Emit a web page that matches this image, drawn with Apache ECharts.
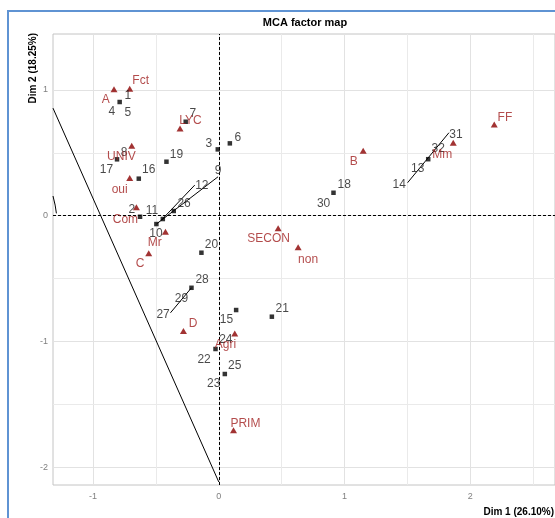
<!DOCTYPE html>
<html>
<head>
<meta charset="utf-8">
<script src="https://cdn.jsdelivr.net/npm/echarts@6/dist/echarts.min.js"></script>
<style>html,body{margin:0;padding:0;background:#fff}#c{width:555px;height:518px}</style>
</head>
<body>
<div id="c"></div>
<script>
// Individuals (black squares)
const indX = [-0.788,-0.263,-0.008,0.088,-0.809,-0.416,-0.636,-0.358,-0.626,-0.496,-0.445,0.912,1.665,-0.138,-0.217,0.138,0.422,-0.026,0.048];
const indY = [0.904,0.747,0.527,0.575,0.448,0.429,0.294,0.037,-0.009,-0.067,-0.027,0.182,0.449,-0.295,-0.574,-0.751,-0.804,-1.061,-1.260];
// Individual labels (repelled positions)
const indLabels = ["1","4","5","7","3","6","8","17","19","16","9","12","26","2","11","10","31","32","13","14","18","30","20","28","29","27","15","21","24","22","25","23"];
const indLabelX = [-0.724,-0.851,-0.724,-0.207,-0.080,0.151,-0.753,-0.893,-0.337,-0.557,-0.006,-0.135,-0.276,-0.692,-0.531,-0.499,1.885,1.745,1.581,1.434,0.997,0.833,-0.058,-0.133,-0.297,-0.443,0.061,0.504,0.056,-0.117,0.127,-0.040];
const indLabelY = [0.954,0.827,0.816,0.808,0.575,0.620,0.504,0.363,0.488,0.363,0.355,0.235,0.098,0.047,0.037,-0.144,0.647,0.530,0.370,0.243,0.243,0.098,-0.234,-0.512,-0.658,-0.791,-0.831,-0.737,-0.990,-1.149,-1.194,-1.340];
// Categories (red triangles)
const catNames = ["A","Fct","LYC","UNIV","oui","Com","Mr","C","D","Agri","PRIM","SECON","non","B","Mm","FF"];
const catX = [-0.833,-0.708,-0.308,-0.692,-0.708,-0.655,-0.424,-0.557,-0.281,0.127,0.117,0.472,0.631,1.148,1.864,2.190];
const catY = [1.005,1.010,0.694,0.556,0.299,0.066,-0.128,-0.300,-0.918,-0.937,-1.708,-0.101,-0.252,0.516,0.580,0.726];
const catLabelX = [-0.899,-0.621,-0.225,-0.774,-0.788,-0.742,-0.509,-0.626,-0.204,0.053,0.212,0.396,0.710,1.074,1.776,2.275];
const catLabelY = [0.925,1.071,0.752,0.468,0.204,-0.030,-0.216,-0.379,-0.858,-1.029,-1.652,-0.186,-0.348,0.431,0.488,0.781];
// Label connector segments
const segments = [
  [[-1.318,0.855],[0,-2.119]],
  [[-1.318,0.156],[-1.301,0.084],[-1.291,0.018]],
  [[-0.496,-0.067],[-0.006,0.309]],
  [[-0.456,-0.035],[-0.191,0.243]],
  [[1.501,0.262],[1.830,0.660]],
  [[-0.217,-0.574],[-0.384,-0.773]]
];
// Axis ticks
const xTicks = [-1,0,1,2];
const yTicks = [-2,-1,0,1];
const xMinor = [-0.5,0.5,1.5,2.5];
const yMinor = [-1.5,-0.5,0.5];
const xRange = [-1.318, 2.673];
const yRange = [-2.143, 1.445];

const FONT = '"Liberation Sans", Arial, sans-serif';
const chart = echarts.init(document.getElementById('c'), null, {renderer:'canvas'});

const series = [];
series.push({
  type:'line', data:[], silent:true, z:1,
  markLine:{
    z:1, silent:true, symbol:'none', animation:false, label:{show:false},
    lineStyle:{color:'#e2e2e2', width:1, type:'solid'},
    data: xTicks.map(v=>({xAxis:v})).concat(yTicks.map(v=>({yAxis:v})))
  }
});
series.push({
  type:'line', data:[], silent:true, z:1,
  markLine:{
    z:1, silent:true, symbol:'none', animation:false, label:{show:false},
    lineStyle:{color:'#eaeaea', width:1, type:'solid'},
    data: xMinor.map(v=>({xAxis:v})).concat(yMinor.map(v=>({yAxis:v})))
  }
});
series.push({
  type:'line', data:[], silent:true, z:2,
  markLine:{
    z:2, silent:true, symbol:'none', animation:false, label:{show:false},
    lineStyle:{color:'#000', width:1, type:[3,2]},
    data:[{xAxis:0},{yAxis:0}]
  }
});
segments.forEach(s=>{
  series.push({type:'line', data:s, symbol:'none', smooth:false, z:3, silent:true,
    lineStyle:{color:'#000', width:1}, clip:true});
});
series.push({type:'scatter', z:4, symbol:'rect', symbolSize:4.5,
  itemStyle:{color:'#000'}, data: indX.map((x,i)=>[x, indY[i]])});
series.push({type:'scatter', z:4, symbol:'triangle', symbolSize:[7,6],
  itemStyle:{color:'#8b0000'}, data: catX.map((x,i)=>[x, catY[i]])});
series.push({type:'scatter', z:5, symbolSize:0,
  data: indLabels.map((n,i)=>({name:n, value:[indLabelX[i], indLabelY[i]]})),
  label:{show:true, position:'inside', formatter:'{b}', color:'#1a1a1a', fontSize:12, fontFamily:FONT}});
series.push({type:'scatter', z:5, symbolSize:0,
  data: catNames.map((n,i)=>({name:n, value:[catLabelX[i], catLabelY[i]]})),
  label:{show:true, position:'inside', formatter:'{b}', color:'#a01f1f', fontSize:12, fontFamily:FONT}});

chart.setOption({
  animation:false,
  backgroundColor:'#fff',
  grid:{left:53, top:34, right:0, bottom:33, show:true, borderColor:'#c4c4c4', borderWidth:1, backgroundColor:'transparent'},
  xAxis:{type:'value', min:xRange[0], max:xRange[1],
    axisLine:{show:false}, splitLine:{show:false},
    axisTick:{show:true, length:3, lineStyle:{color:'#c4c4c4'}, customValues:xTicks},
    axisLabel:{show:true, customValues:xTicks, color:'#808080', fontSize:9, margin:7, fontFamily:FONT}},
  yAxis:{type:'value', min:yRange[0], max:yRange[1],
    axisLine:{show:false}, splitLine:{show:false},
    axisTick:{show:true, length:3, lineStyle:{color:'#c4c4c4'}, customValues:yTicks},
    axisLabel:{show:true, customValues:yTicks, color:'#808080', fontSize:9, margin:5, fontFamily:FONT}},
  graphic:[
    {type:'rect', shape:{x:8, y:11, width:700, height:700}, style:{fill:'none', stroke:'#5f93d3', lineWidth:2}, z:100, silent:true},
    {type:'text', x:305, y:23, style:{text:'MCA factor map', fill:'#000', font:'bold 11px '+FONT, textAlign:'center', textVerticalAlign:'middle'}, z:100},
    {type:'text', x:554, y:512, style:{text:'Dim 1 (26.10%)', fill:'#000', font:'bold 10px '+FONT, textAlign:'right', textVerticalAlign:'middle'}, z:100},
    {type:'text', x:33, y:33, rotation:Math.PI/2, style:{text:'Dim 2 (18.25%)', fill:'#000', font:'bold 10px '+FONT, textAlign:'right', textVerticalAlign:'middle'}, z:100}
  ],
  series: series
});
</script>
</body>
</html>
